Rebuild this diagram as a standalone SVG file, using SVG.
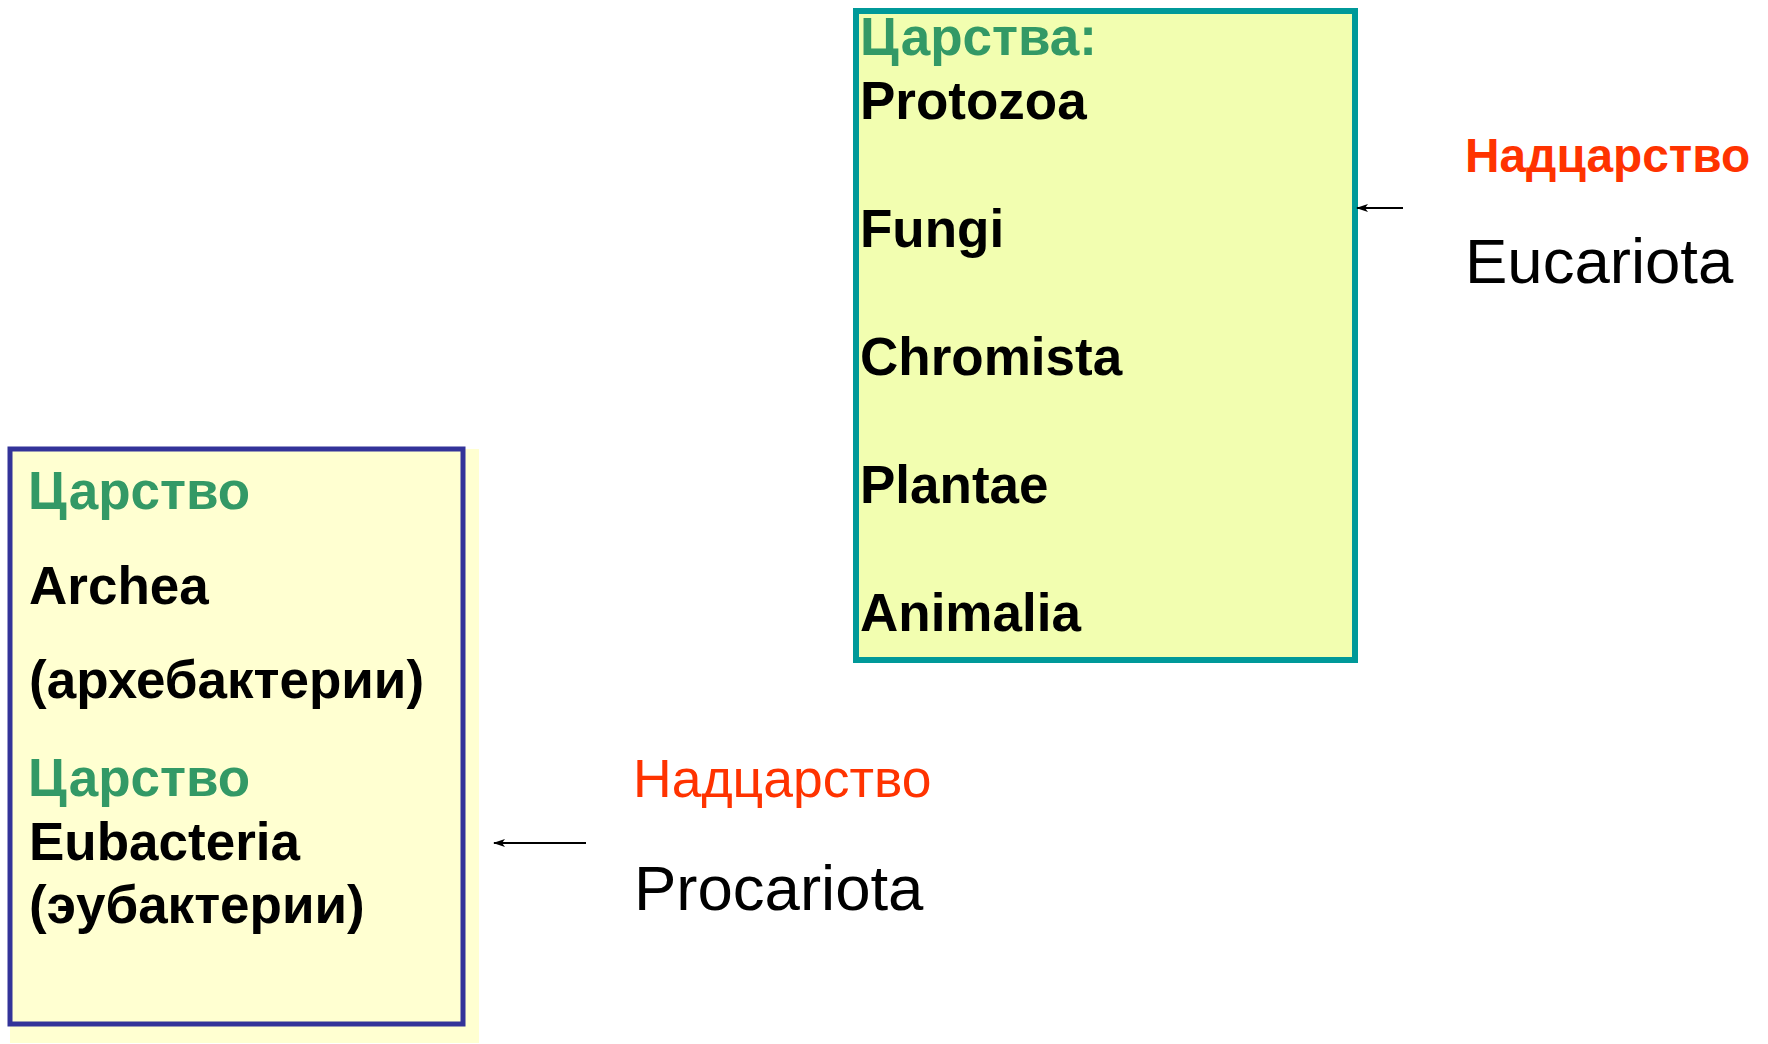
<svg xmlns="http://www.w3.org/2000/svg" width="1768" height="1044" viewBox="0 0 1768 1044">
<style>
text{font-family:"Liberation Sans",Arial,sans-serif}
.b{font-weight:bold;font-size:53px;fill:#000}
.g{font-weight:bold;font-size:53px;fill:#339966}
.big{font-size:63.5px;fill:#000}
.conn{stroke:#000;stroke-width:2;fill:none;marker-end:url(#ah)}
</style>
<defs>
<marker id="ah" markerWidth="12" markerHeight="8" refX="11" refY="4" orient="auto" markerUnits="userSpaceOnUse">
<path d="M0,0 L12,4 L0,8 L3,4 Z" fill="#000"/>
</marker>
</defs>
<rect width="1768" height="1044" fill="#fff"/>
<g id="eukaryote-kingdoms">
<rect x="856" y="11" width="499" height="649" fill="#F2FEB0" stroke="#009999" stroke-width="6"/>
<text class="g" x="860" y="55">Царства:</text>
<text class="b" x="860" y="119">Protozoa</text>
<text class="b" x="860" y="247">Fungi</text>
<text class="b" x="860" y="375">Chromista</text>
<text class="b" x="860" y="503">Plantae</text>
<text class="b" x="860" y="631">Animalia</text>
</g>
<g id="eukaryote-label">
<text x="1465" y="172" font-size="47.8" font-weight="bold" fill="#FF3300">Надцарство</text>
<text class="big" x="1465" y="283">Eucariota</text>
</g>
<g id="prokaryote-kingdoms">
<rect x="10" y="449" width="469" height="594" fill="#FFFFD1"/>
<rect x="10" y="449" width="453" height="575" fill="#FFFFD1" stroke="#333399" stroke-width="5"/>
<text class="g" x="28" y="509">Царство</text>
<text class="b" x="29" y="604">Archea</text>
<text class="b" x="29" y="698">(архебактерии)</text>
<text class="g" x="28" y="796">Царство</text>
<text class="b" x="29" y="860">Eubacteria</text>
<text class="b" x="29" y="923">(эубактерии)</text>
</g>
<g id="prokaryote-label">
<text x="633" y="797" font-size="53.5" fill="#FF3300">Надцарство</text>
<text class="big" x="634" y="910">Procariota</text>
</g>
<g id="connectors">
<line class="conn" x1="1403" y1="208" x2="1357" y2="208"/>
<line class="conn" x1="586" y1="843" x2="494" y2="843"/>
</g>
</svg>
